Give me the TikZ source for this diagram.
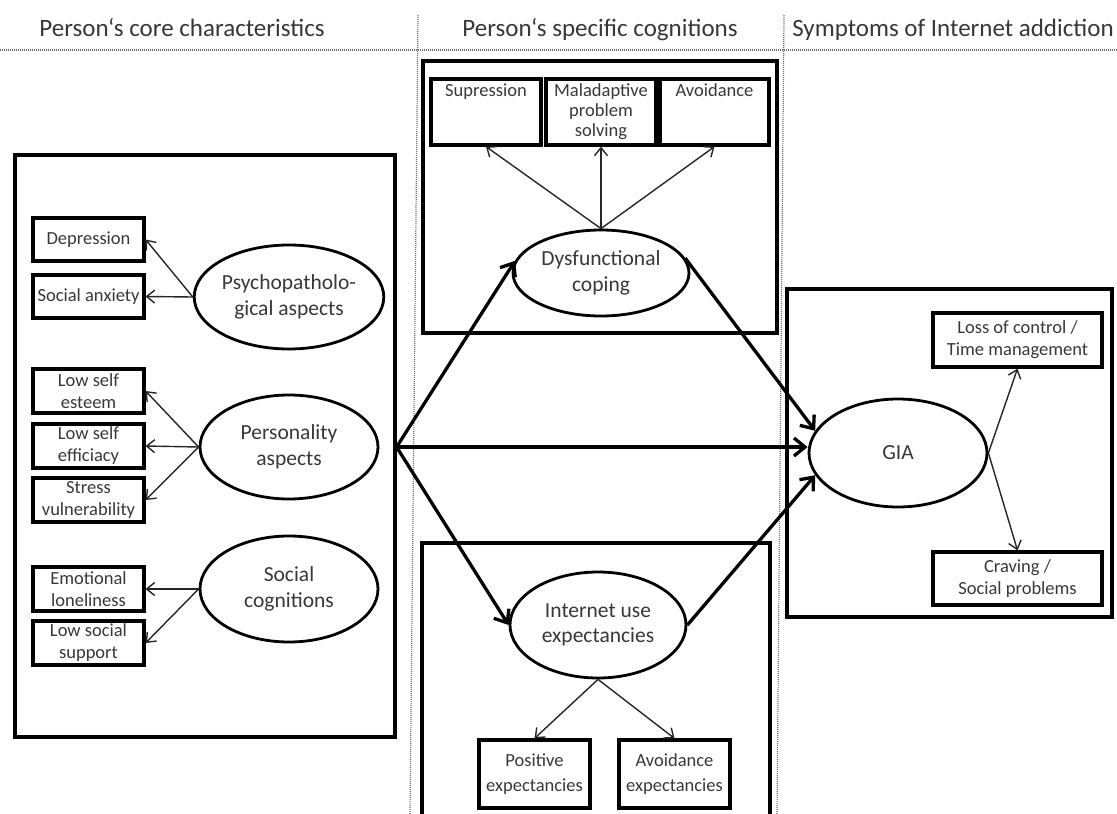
\documentclass[tikz,border=0pt]{standalone}
\usepackage{fontspec}
\setmainfont{Carlito}
\usetikzlibrary{shapes.geometric,arrows.meta}
\definecolor{txt}{HTML}{383838}
\begin{document}
\begin{tikzpicture}[x=1pt,y=-1pt,
  frame/.style={draw=black,line width=3.2pt,rectangle,inner sep=0pt},
  indbox/.style={draw=black,line width=3.2pt,rectangle,inner sep=0pt,align=center,text=txt,
    font=\fontsize{18.5}{22}\selectfont},
  latent/.style={draw=black,line width=2.8pt,ellipse,inner sep=0pt,align=center,text=txt,
    font=\fontsize{21.5}{25.5}\selectfont},
  hdr/.style={text=txt,inner sep=0pt,anchor=base,font=\fontsize{25}{29}\selectfont},
  thinarr/.style={draw=black!85,line width=1.4pt,-{Straight Barb[length=8pt,width=13pt]}},
  thickarr/.style={draw=black,line width=3.3pt,-{Straight Barb[length=11pt,width=18pt]}},
  guide/.style={draw=black!55,line width=1.2pt,dash pattern=on 1pt off 1pt}]
\useasboundingbox (0,0) rectangle (1117,814);

% column headers and separators
\node[hdr] (h1) at (182,36) {Person‘s core characteristics};
\node[hdr] (h2) at (600,36) {Person‘s specific cognitions};
\node[hdr] (h3) at (953,36) {Symptoms of Internet addiction};
\draw[guide] (0,50) -- (1117,50);
\draw[guide] (418,15) -- (410,814);
\draw[guide] (784,15) -- (777,814);

% left column: core characteristics
\node[frame,minimum width=380pt,minimum height=582pt] (core) at (205,446) {};
\node[latent,minimum width=178pt,minimum height=104pt] (psy) at (289,297) {Psychopatholo-\\gical aspects};
\node[latent,minimum width=178pt,minimum height=104pt] (pers) at (289,447) {Personality\\aspects};
\node[latent,minimum width=178pt,minimum height=106pt] (socc) at (289,589) {Social\\cognitions};

\node[indbox,minimum width=111pt,minimum height=43pt] (dep) at (88.5,239.5) {Depression};
\node[indbox,minimum width=111pt,minimum height=43pt] (sanx) at (88.5,296.5) {Social anxiety};
\node[indbox,minimum width=111pt,minimum height=44pt] (lse) at (88.5,391) {Low self\\esteem};
\node[indbox,minimum width=111pt,minimum height=44pt] (lsef) at (88.5,446) {Low self\\efficiacy};
\node[indbox,minimum width=111pt,minimum height=44pt] (stress) at (88.5,500) {Stress\\vulnerability};
\node[indbox,minimum width=111pt,minimum height=44pt] (emo) at (88.5,589) {Emotional\\loneliness};
\node[indbox,minimum width=111pt,minimum height=44pt] (lss) at (88.5,643) {Low social\\support};

\draw[thinarr] (psy.west) -- (dep.east);
\draw[thinarr] (psy.west) -- (sanx.east);
\draw[thinarr] (pers.west) -- (lse.east);
\draw[thinarr] (pers.west) -- (lsef.east);
\draw[thinarr] (pers.west) -- (stress.east);
\draw[thinarr] (socc.west) -- (emo.east);
\draw[thinarr] (socc.west) -- (lss.east);

% middle column: specific cognitions
\node[frame,minimum width=354pt,minimum height=272pt] (cogtop) at (600,197) {};
\node[indbox,minimum width=110pt,minimum height=66pt] (sup) at (486,112) {Supression\\\mbox{}\\\mbox{}};
\node[indbox,minimum width=110pt,minimum height=66pt,font=\fontsize{18.5}{20}\selectfont] (mal) at (601,112) {Maladaptive\\problem\\solving};
\node[indbox,minimum width=109pt,minimum height=66pt] (avo) at (714.5,112) {Avoidance\\\mbox{}\\\mbox{}};
\node[latent,minimum width=176pt,minimum height=86pt] (cope) at (601,273) {Dysfunctional\\coping};
\draw[thinarr] (cope.north) -- (sup.south);
\draw[thinarr] (cope.north) -- (mal.south);
\draw[thinarr] (cope.north) -- (avo.south);

\draw[line width=3.2pt] (422,818) -- (422,543) -- (770,543) -- (770,818);
\node[latent,minimum width=176pt,minimum height=106pt] (iue) at (598,625) {Internet use\\expectancies};
\node[indbox,minimum width=111pt,minimum height=68pt,font=\fontsize{18.5}{25}\selectfont] (pos) at (534.5,774) {Positive\\expectancies};
\node[indbox,minimum width=111pt,minimum height=68pt,font=\fontsize{18.5}{25}\selectfont] (avx) at (674.5,774) {Avoidance\\expectancies};
\draw[thinarr] (iue.south) -- (pos.north);
\draw[thinarr] (iue.south) -- (avx.north);

% right column: symptoms
\node[frame,minimum width=325pt,minimum height=328pt] (symp) at (949.5,453) {};
\node[latent,minimum width=178pt,minimum height=108pt] (gia) at (898,453) {GIA};
\node[indbox,minimum width=169pt,minimum height=54pt] (loss) at (1017.5,340) {Loss of control /\\Time management};
\node[indbox,minimum width=169pt,minimum height=53pt] (crav) at (1017.5,578.5) {Craving /\\Social problems};
\draw[thinarr] (gia.east) -- (loss.south);
\draw[thinarr] (gia.east) -- (crav.north);

% structural paths
\coordinate (hub) at (core.east |- pers.center);
\draw[thickarr] (hub) -- (cope.172);
\draw[thickarr] (hub) -- (hub -| gia.west);
\draw[thickarr] (hub) -- (iue.west);
\draw[thickarr] (cope.10) -- (gia.165);
\draw[thickarr] (iue.east) -- (gia.195);
\end{tikzpicture}
\end{document}
